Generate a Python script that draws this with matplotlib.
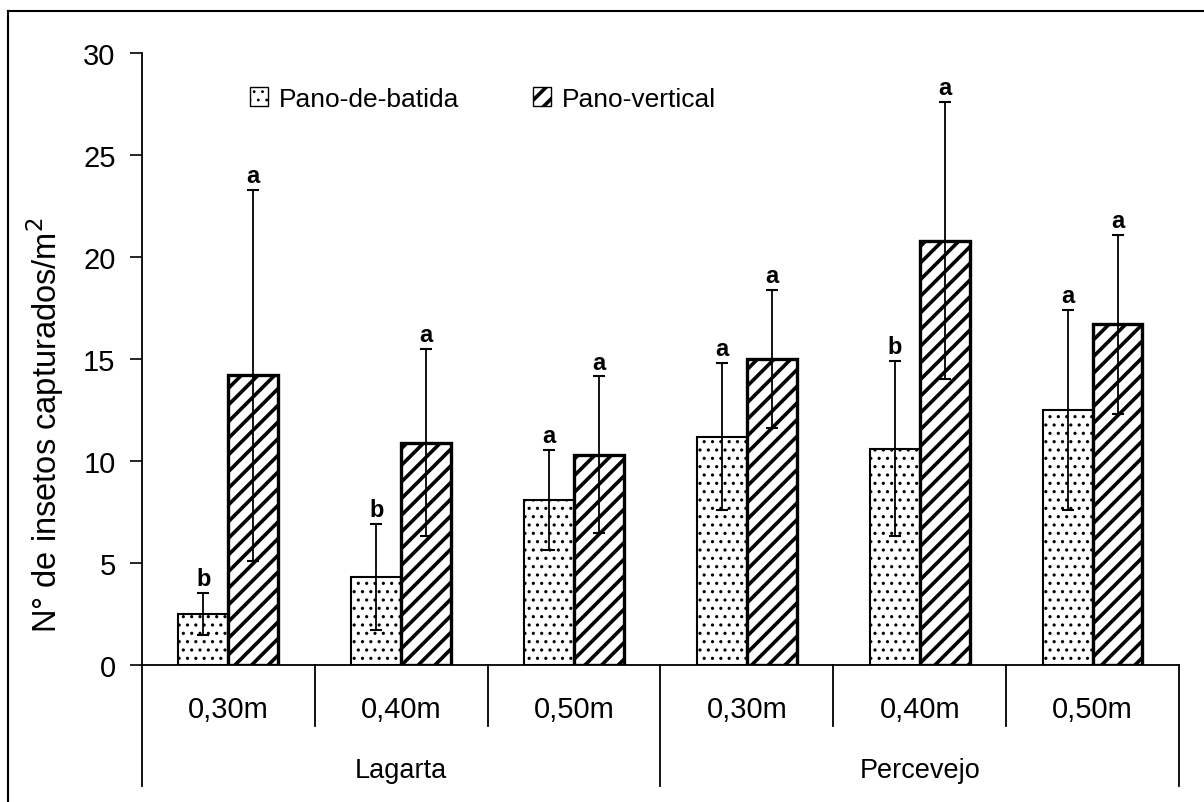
import matplotlib
matplotlib.use("Agg")
import matplotlib.pyplot as plt
import numpy as np
from matplotlib.lines import Line2D
from matplotlib.patches import Patch

plt.rcParams["font.family"] = ["Liberation Sans", "DejaVu Sans"]
plt.rcParams["hatch.linewidth"] = 2.6

# dados
alturas = ["0,30m", "0,40m", "0,50m", "0,30m", "0,40m", "0,50m"]
grupos = ["Lagarta", "Percevejo"]
batida = [2.5, 4.3, 8.1, 11.2, 10.6, 12.5]
batida_err = [1.05, 2.6, 2.45, 3.6, 4.3, 4.9]
vertical = [14.2, 10.9, 10.3, 15.0, 20.8, 16.7]
vertical_err = [9.1, 4.6, 3.85, 3.4, 6.8, 4.4]
letras_batida = ["b", "b", "a", "a", "b", "a"]
letras_vertical = ["a", "a", "a", "a", "a", "a"]


def pontos_finos(patches, lw=0.9):
    # deixa os pontos do hachurado pequenos
    for p in patches:
        if hasattr(p, "set_hatch_linewidth"):
            p.set_hatch_linewidth(lw)
        else:
            p._hatch_linewidth = lw


fig = plt.figure(figsize=(12.04, 8.03), dpi=100)
ax = fig.add_axes([0.1179, 0.1706, 0.8613, 0.7622])

x = np.arange(len(alturas))
w = 0.289

b1 = ax.bar(x - w / 2, batida, w, facecolor="white", edgecolor="black",
            hatch="..", linewidth=1.5, zorder=2)
pontos_finos(b1.patches, 1.1)
b2 = ax.bar(x + w / 2, vertical, w, facecolor="white", edgecolor="black",
            hatch="//", linewidth=2.4, zorder=2)

ax.errorbar(x - w / 2, batida, yerr=batida_err, fmt="none", ecolor="black",
            elinewidth=1.3, capsize=4.5, capthick=1.5, zorder=3)
ax.errorbar(x + w / 2, vertical, yerr=vertical_err, fmt="none", ecolor="black",
            elinewidth=1.3, capsize=4.5, capthick=1.5, zorder=3)

for i in range(len(x)):
    ax.annotate(letras_batida[i], (x[i] - w / 2, batida[i] + batida_err[i]),
                xytext=(0, 2), textcoords="offset points", ha="center",
                va="bottom", fontsize=17, fontweight="bold")
    ax.annotate(letras_vertical[i], (x[i] + w / 2, vertical[i] + vertical_err[i]),
                xytext=(0, 2), textcoords="offset points", ha="center",
                va="bottom", fontsize=17, fontweight="bold")

ax.set_xlim(-0.5, len(x) - 0.5)
ax.set_ylim(0, 30)
ax.set_yticks(np.arange(0, 31, 5))
ax.tick_params(axis="y", labelsize=21, length=9, width=1.2, pad=10)
ax.set_xticks([])
ax.spines["top"].set_visible(False)
ax.spines["right"].set_visible(False)
ax.spines["left"].set_linewidth(1.3)
ax.spines["bottom"].set_linewidth(1.3)

ax.set_ylabel("N° de insetos capturados/m$^2$", fontsize=23.5)
ax.yaxis.set_label_coords(-0.073, 0.394)

# tabela de categorias abaixo do eixo
trans = ax.get_xaxis_transform()
for d in np.arange(-0.5, len(x), 1.0):
    fundo = -0.198 if d in (-0.5, 2.5, len(x) - 0.5) else -0.0997
    ax.add_line(Line2D([d, d], [0, fundo], transform=trans, color="black",
                       linewidth=1.3, clip_on=False))
for i, lab in enumerate(alturas):
    ax.text(x[i], -0.072, lab, transform=trans, ha="center", va="center",
            fontsize=21)
for j, g in enumerate(grupos):
    ax.text(1 + 3 * j, -0.172, g, transform=trans, ha="center", va="center",
            fontsize=19.5)

handles = [Patch(facecolor="white", edgecolor="black", hatch="..", linewidth=1),
           Patch(facecolor="white", edgecolor="black", hatch="//", linewidth=1)]
leg = ax.legend(handles, ["Pano-de-batida", "Pano-vertical"], loc="center left",
                bbox_to_anchor=(0.081, 0.925), ncol=2, frameon=False,
                fontsize=19, handlelength=0.7, handleheight=0.7,
                handletextpad=0.4, columnspacing=2.8)
pontos_finos(leg.get_patches()[:1], 0.8)

# moldura externa
fig.add_artist(Line2D([0.0066, 0.0066], [0.0, 0.985], transform=fig.transFigure,
                      color="black", linewidth=1.5))
fig.add_artist(Line2D([0.0066, 1.0], [0.985, 0.985], transform=fig.transFigure,
                      color="black", linewidth=1.5))

fig.savefig("out.png", dpi=100)
